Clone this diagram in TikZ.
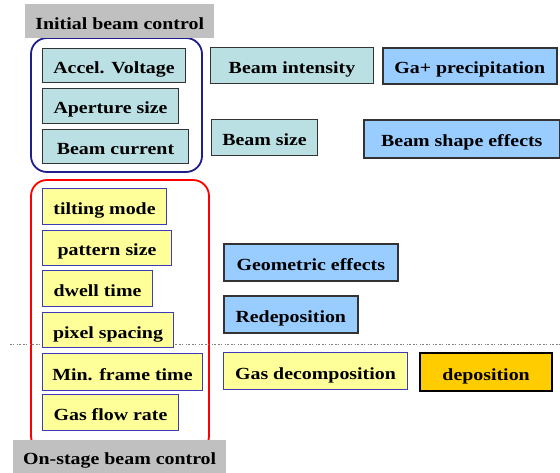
\documentclass[tikz,border=0pt]{standalone}
\usepackage{fontspec}
\setmainfont{Liberation Serif}
\newfontfamily\widefont[FakeStretch=1.17]{Liberation Serif}
\definecolor{teal1}{HTML}{BBE0E3}
\definecolor{yel1}{HTML}{FFFF99}
\definecolor{blu1}{HTML}{99CCFF}
\definecolor{gold1}{HTML}{FFCC00}
\definecolor{gray1}{HTML}{C0C0C0}
\definecolor{navy1}{HTML}{1E1E8C}
\definecolor{ybord}{HTML}{3C3CB4}
\begin{document}
\begin{tikzpicture}[x=1pt,y=-1pt,
  txt/.style={font=\widefont\fontsize{17}{20}\selectfont\bfseries, inner sep=0pt, anchor=north west, align=center, text height=16pt, text depth=0pt},
  tealbox/.style={txt, fill=teal1, draw=black!80, line width=1pt},
  yelbox/.style={txt, fill=yel1, draw=ybord, line width=1pt},
  blubox/.style={txt, fill=blu1, draw=black!80, line width=1.6pt},
  goldbox/.style={txt, fill=gold1, draw=black, line width=2.2pt},
  graybox/.style={txt, fill=gray1},
  groupbox/.style={line width=1.8pt, rounded corners=16pt}
]
\useasboundingbox (0,0) rectangle (560,473);
% group frames
\draw[groupbox, draw=navy1] (31,38) rectangle (202,172);
\draw[groupbox, draw=red] (31,180) rectangle (209,452);
% dotted separator
\coordinate (dl) at (10,344);
\coordinate (dr) at (560,344);
\draw[gray, line width=0.9pt, dash pattern=on 1.5pt off 1pt on 1.5pt off 2.5pt] (dl) -- (dr);
% titles
\node[graybox, minimum width=189pt, minimum height=34pt] (t1) at (25,4) {Initial beam control};
\node[graybox, minimum width=213pt, minimum height=33pt] (t2) at (13,440) {On-stage beam control};
% initial beam control
\node[tealbox, minimum width=143pt, minimum height=34pt] (av) at (42,48) {Accel. Voltage};
\node[tealbox, minimum width=136pt, minimum height=35pt] (ap) at (42,88) {Aperture size};
\node[tealbox, minimum width=146pt, minimum height=34pt] (bc) at (42,129) {Beam current};
\node[tealbox, minimum width=163pt, minimum height=36pt] (bi) at (210,47) {Beam intensity};
\node[tealbox, minimum width=106pt, minimum height=36pt] (bs) at (211,119) {Beam size};
\node[blubox, minimum width=174pt, minimum height=36pt] (ga) at (382,47) {Ga+ precipitation};
\node[blubox, minimum width=196pt, minimum height=38pt] (bse) at (363,119) {Beam shape effects};
% on-stage
\node[yelbox, minimum width=124pt, minimum height=36pt] (tm) at (42,188) {tilting mode};
\node[yelbox, minimum width=129pt, minimum height=35pt] (ps) at (42,230) {pattern size};
\node[yelbox, minimum width=110pt, minimum height=36pt] (dw) at (42,270) {dwell time};
\node[yelbox, minimum width=131pt, minimum height=35pt] (px) at (42,312) {pixel spacing};
\node[yelbox, minimum width=160pt, minimum height=37pt] (mf) at (42,353) {Min. frame time};
\node[yelbox, minimum width=136pt, minimum height=36pt] (gf) at (42,394) {Gas flow rate};
\node[blubox, minimum width=174pt, minimum height=37pt] (ge) at (223,243) {Geometric effects};
\node[blubox, minimum width=134pt, minimum height=37pt] (rd) at (223,295) {Redeposition};
\node[yelbox, minimum width=184pt, minimum height=37pt] (gd) at (223,352) {Gas decomposition};
\node[goldbox, minimum width=132pt, minimum height=38pt] (dp) at (419,352) {deposition};
\end{tikzpicture}
\end{document}
